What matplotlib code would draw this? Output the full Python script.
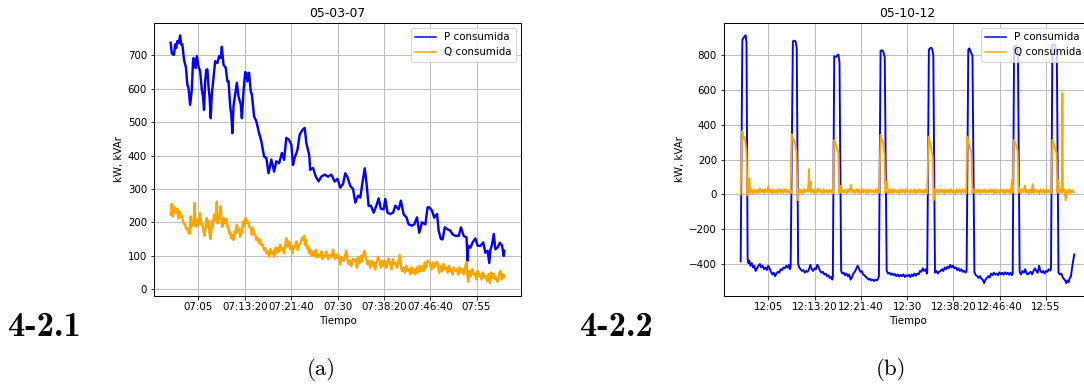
import numpy as np
import matplotlib
matplotlib.use("Agg")
import matplotlib.pyplot as plt
from matplotlib.ticker import MultipleLocator, FuncFormatter

# minutos desde el inicio de cada registro
inicio_a = 7 * 3600   # 07:00
inicio_b = 12 * 3600  # 12:00

t_p_a = [0.0, 0.2, 0.4, 0.6, 0.8, 1.0, 1.2, 1.45, 1.7, 1.9, 2.1, 2.4, 2.75, 3.0, 3.2, 3.5, 3.7, 3.8, 4.0, 4.1,
         4.3, 4.5, 4.7, 5.0, 5.3, 5.6, 5.8, 6.0, 6.2, 6.4, 6.6, 6.8, 7.0, 7.2, 7.4, 7.6, 8.0, 8.4, 8.7, 9.0,
         9.2, 9.5, 9.9, 10.2, 10.4, 10.7, 10.9, 11.1, 11.3, 11.5, 11.9, 12.2, 12.6, 12.8, 13.1, 13.4, 13.6, 13.8, 14.1, 14.4,
         14.6, 15.0, 15.4, 15.9, 16.3, 16.8, 17.2, 17.6, 18.1, 18.6, 19.0, 19.5, 20.0, 20.4, 20.8, 21.3, 21.7, 22.0, 22.3, 22.8,
         23.2, 23.7, 24.1, 24.4, 24.9, 25.1, 25.6, 26.1, 26.6, 27.1, 27.7, 28.3, 28.9, 29.5, 30.0, 30.5, 31.0, 31.4, 31.8, 32.3,
         32.8, 33.2, 33.7, 34.1, 34.5, 34.9, 35.2, 35.6, 36.0, 36.5, 37.0, 37.4, 37.8, 38.3, 38.6, 39.0, 39.5, 40.0, 40.4, 41.0,
         41.4, 41.9, 42.4, 42.8, 43.4, 43.8, 44.3, 44.7, 45.2, 45.8, 46.2, 46.5, 47.0, 47.4, 47.9, 48.2, 48.6, 48.9, 49.3, 49.8,
         50.3, 50.7, 51.2, 51.8, 52.2, 52.7, 53.2, 53.4, 53.5, 53.9, 54.3, 54.8, 55.2, 55.7, 56.2, 56.6, 57.0, 57.3, 57.5, 57.8,
         58.1, 58.4, 58.8, 59.2, 59.6, 59.9, 60.0]
p_a = [738, 707, 703, 702, 733, 722, 743, 737, 760, 732, 733, 687, 663, 612, 603, 552, 583, 597, 678, 692,
       688, 662, 698, 667, 653, 597, 578, 537, 623, 657, 658, 607, 573, 512, 583, 617, 683, 677, 698, 692,
       726, 672, 663, 622, 623, 547, 523, 467, 548, 572, 618, 577, 553, 512, 593, 650, 648, 622, 648, 592,
       583, 517, 503, 467, 443, 397, 393, 347, 388, 352, 383, 377, 408, 387, 453, 447, 433, 372, 393, 417,
       463, 477, 483, 437, 403, 357, 363, 337, 323, 337, 343, 337, 343, 322, 330, 304, 315, 347, 335, 309,
       300, 259, 280, 274, 320, 362, 320, 249, 250, 229, 250, 272, 240, 239, 270, 229, 225, 229, 250, 239,
       265, 224, 215, 194, 190, 194, 215, 169, 200, 194, 245, 245, 235, 214, 225, 174, 150, 149, 185, 179,
       175, 164, 160, 159, 185, 159, 155, 85, 130, 124, 140, 152, 130, 129, 140, 109, 115, 78, 118, 134,
       165, 119, 125, 139, 130, 99, 115]

t_q_a = [0.0, 0.2, 0.4, 0.6, 0.8, 1.0, 1.2, 1.4, 1.6, 1.8, 2.0, 2.3, 2.6, 2.8, 3.0, 3.2, 3.4, 3.6, 3.75, 3.9,
         4.1, 4.3, 4.45, 4.6, 4.8, 5.0, 5.3, 5.5, 5.7, 5.9, 6.1, 6.3, 6.5, 6.65, 6.8, 7.0, 7.2, 7.4, 7.55, 7.8,
         8.0, 8.15, 8.3, 8.45, 8.6, 8.8, 9.0, 9.15, 9.3, 9.55, 9.8, 10.0, 10.2, 10.35, 10.5, 10.7, 10.9, 11.1, 11.3, 11.5,
         11.7, 11.9, 12.1, 12.3, 12.5, 12.65, 12.8, 13.0, 13.2, 13.45, 13.7, 13.9, 14.1, 14.35, 14.6, 14.8, 15.0, 15.2, 15.4, 15.65,
         15.9, 16.1, 16.3, 16.55, 16.8, 17.0, 17.2, 17.45, 17.7, 17.9, 18.1, 18.35, 18.6, 18.8, 19.0, 19.25, 19.5, 19.7, 19.9, 20.15,
         20.4, 20.6, 20.8, 21.05, 21.3, 21.5, 21.7, 21.9, 22.1, 22.35, 22.6, 22.85, 23.1, 23.35, 23.6, 23.8, 24.0, 24.15, 24.3, 24.5,
         24.7, 24.9, 25.1, 25.35, 25.6, 25.85, 26.1, 26.35, 26.6, 26.85, 27.1, 27.3, 27.5, 27.75, 28.0, 28.3, 28.6, 28.9, 29.2, 29.5,
         29.8, 30.0, 30.25, 30.5, 30.8, 31.1, 31.35, 31.6, 31.8, 32.0, 32.25, 32.5, 32.75, 33.0, 33.25, 33.5, 33.75, 34.0, 34.2, 34.4,
         34.65, 34.9, 35.15, 35.4, 35.65, 35.9, 36.15, 36.4, 36.6, 36.8, 37.05, 37.3, 37.55, 37.8, 38.05, 38.3, 38.55, 38.8, 39.0, 39.2,
         39.45, 39.7, 39.95, 40.2, 40.45, 40.7, 40.95, 41.2, 41.4, 41.6, 41.85, 42.1, 42.35, 42.6, 42.85, 43.1, 43.3, 43.5, 43.75, 44.0,
         44.25, 44.5, 44.75, 45.0, 45.25, 45.5, 45.7, 45.9, 46.15, 46.4, 46.65, 46.9, 47.15, 47.4, 47.65, 47.9, 48.1, 48.3, 48.55, 48.8,
         49.05, 49.3, 49.55, 49.8, 50.05, 50.3, 50.5, 50.7, 50.95, 51.2, 51.45, 51.7, 51.95, 52.2, 52.45, 52.7, 52.95, 53.2, 53.35, 53.5,
         53.75, 54.0, 54.25, 54.5, 54.75, 55.0, 55.2, 55.4, 55.65, 55.9, 56.15, 56.4, 56.65, 56.9, 57.15, 57.4, 57.65, 57.9, 58.1, 58.3,
         58.55, 58.8, 59.05, 59.3, 59.55, 59.8, 60.0]
q_a = [223, 255, 217, 233, 245, 227, 240, 212, 232, 217, 220, 197, 193, 180, 183, 170, 165, 218, 187, 203,
       190, 258, 200, 187, 208, 192, 228, 195, 193, 172, 160, 190, 213, 187, 203, 165, 150, 203, 187, 223,
       207, 225, 262, 197, 213, 215, 248, 200, 187, 213, 197, 210, 187, 190, 167, 170, 152, 163, 147, 173,
       167, 193, 177, 180, 157, 180, 167, 203, 187, 213, 198, 203, 187, 185, 162, 183, 167, 163, 147, 153,
       137, 148, 132, 133, 117, 123, 107, 113, 97, 120, 107, 113, 97, 123, 107, 125, 112, 133, 117, 123,
       107, 133, 152, 127, 143, 120, 133, 107, 123, 127, 143, 117, 133, 137, 153, 147, 160, 132, 148, 122,
       128, 107, 118, 100, 113, 97, 118, 95, 103, 97, 113, 90, 103, 97, 113, 90, 103, 95, 118, 90,
       103, 92, 100, 74, 95, 84, 100, 115, 90, 74, 85, 69, 90, 84, 90, 64, 95, 79, 100, 84,
       105, 115, 90, 74, 85, 64, 85, 69, 80, 59, 80, 97, 85, 64, 85, 69, 85, 64, 80, 92,
       75, 59, 90, 74, 80, 64, 85, 102, 70, 54, 65, 49, 70, 54, 60, 44, 65, 49, 60, 44,
       65, 49, 70, 54, 70, 54, 80, 64, 85, 82, 75, 59, 80, 64, 77, 82, 65, 49, 70, 54,
       75, 59, 65, 49, 70, 54, 60, 44, 65, 54, 60, 44, 65, 49, 60, 44, 65, 80, 45, 22,
       55, 39, 60, 44, 45, 29, 55, 39, 45, 29, 50, 34, 40, 24, 45, 18, 50, 34, 45, 29,
       35, 22, 45, 55, 29, 45, 36]

t_p_b = [0.0, 0.3, 0.5, 0.7, 0.9, 1.05, 1.25, 1.4, 1.55, 1.75, 2.0, 2.2, 2.45, 2.7, 2.95, 3.2, 3.45, 3.7, 3.95, 4.2,
         4.45, 4.7, 4.95, 5.2, 5.45, 5.7, 5.95, 6.2, 6.45, 6.7, 6.95, 7.2, 7.45, 7.7, 7.95, 8.2, 8.45, 8.7, 8.85, 9.0,
         9.4, 9.6, 9.9, 10.1, 10.35, 10.55, 10.8, 11.05, 11.3, 11.55, 11.8, 12.05, 12.3, 12.55, 12.8, 13.05, 13.3, 13.55, 13.8, 14.05,
         14.3, 14.55, 14.8, 15.05, 15.3, 15.55, 15.8, 16.05, 16.3, 16.5, 16.6, 16.85, 17.1, 17.4, 17.6, 17.8, 18.1, 18.3, 18.55, 18.8,
         19.05, 19.3, 19.55, 19.8, 20.05, 20.3, 20.55, 20.8, 21.05, 21.3, 21.55, 21.8, 22.05, 22.3, 22.55, 22.8, 23.05, 23.3, 23.55, 23.8,
         24.05, 24.3, 24.55, 24.75, 24.9, 25.2, 25.45, 25.7, 25.95, 26.3, 26.55, 26.8, 27.05, 27.3, 27.55, 27.8, 28.05, 28.3, 28.55, 28.8,
         29.05, 29.3, 29.55, 29.8, 30.05, 30.3, 30.55, 30.8, 31.05, 31.3, 31.55, 31.8, 32.05, 32.3, 32.55, 32.8, 33.05, 33.3, 33.55, 33.6,
         33.9, 34.1, 34.3, 34.5, 34.7, 35.0, 35.25, 35.5, 35.75, 36.0, 36.25, 36.5, 36.75, 37.0, 37.25, 37.5, 37.75, 38.0, 38.25, 38.5,
         38.75, 39.0, 39.25, 39.5, 39.75, 40.0, 40.25, 40.5, 40.7, 41.0, 41.2, 41.5, 41.75, 42.1, 42.35, 42.6, 42.85, 43.1, 43.35, 43.6,
         43.85, 44.1, 44.35, 44.6, 44.85, 45.1, 45.35, 45.6, 45.85, 46.1, 46.35, 46.6, 46.85, 47.1, 47.35, 47.6, 47.85, 48.1, 48.35, 48.6,
         48.85, 49.0, 49.25, 49.5, 49.75, 49.95, 50.25, 50.5, 50.75, 51.0, 51.25, 51.5, 51.75, 52.0, 52.25, 52.5, 52.75, 53.0, 53.25, 53.5,
         53.75, 54.0, 54.25, 54.5, 54.75, 55.0, 55.25, 55.5, 55.75, 55.9, 56.15, 56.4, 56.7, 56.95, 57.25, 57.5, 57.75, 58.0, 58.2, 58.45,
         58.65, 58.85, 59.05, 59.3, 59.5, 59.7, 59.9, 60.1]
p_b = [-385, 890, 900, 910, 915, 870, -370, -395, -380, -410, -395, -420, -410, -440, -425, -410, -400, -420, -410, -430,
       -420, -435, -410, -425, -445, -460, -450, -470, -455, -445, -450, -430, -435, -420, -425, -410, -420, -405, -430, -420,
       880, 885, 880, 840, -400, -420, -430, -440, -435, -450, -440, -445, -430, -405, -430, -440, -425, -430, -405, -420,
       -440, -450, -445, -460, -455, -470, -465, -480, -475, -490, -470, 795, 790, 800, 805, 760, -440, -455, -450, -465,
       -455, -470, -460, -490, -475, -455, -445, -430, -410, -425, -445, -440, -460, -465, -475, -480, -490, -485, -495, -490,
       -498, -490, -495, -485, -470, 825, 830, 820, 790, -440, -455, -450, -462, -455, -465, -458, -470, -460, -472, -462,
       -470, -460, -475, -465, -470, -462, -475, -460, -470, -455, -468, -455, -460, -440, -445, -425, -440, -430, -455, -450,
       833, 840, 845, 835, 800, -450, -440, -455, -445, -440, -430, -440, -420, -430, -415, -425, -405, -420, -410, -425,
       -420, -435, -425, -440, -430, -445, -440, -450, -440, 833, 840, 815, 800, -445, -465, -470, -480, -470, -485, -490,
       -510, -490, -480, -470, -478, -455, -465, -450, -462, -455, -465, -448, -460, -450, -462, -448, -458, -450, -462, -450,
       -465, -455, 850, 855, 840, 790, -445, -460, -440, -450, -430, -455, -460, -450, -445, -460, -440, -425, -440, -450,
       -410, -440, -450, -440, -455, -440, -445, -430, -438, -425, 860, 865, 855, 800, -450, -460, -455, -475, -485, -495,
       -510, -495, -505, -480, -470, -420, -380, -345]

t_q_b = [0.0, 0.1, 0.3, 0.5, 0.7, 0.9, 1.05, 1.2, 1.4, 1.55, 1.7, 1.95, 2.2, 2.45, 2.7, 2.95, 3.2, 3.45, 3.7, 3.95,
         4.2, 4.45, 4.7, 4.95, 5.2, 5.45, 5.7, 5.95, 6.2, 6.45, 6.7, 6.95, 7.2, 7.45, 7.7, 7.95, 8.2, 8.45, 8.7, 8.95,
         9.0, 9.2, 9.45, 9.7, 9.9, 10.05, 10.2, 10.3, 10.45, 10.7, 10.95, 11.2, 11.45, 11.7, 11.95, 12.15, 12.3, 12.4, 12.55, 12.7,
         12.95, 13.2, 13.45, 13.7, 13.95, 14.2, 14.45, 14.7, 14.95, 15.2, 15.45, 15.7, 15.95, 16.2, 16.45, 16.6, 16.85, 17.1, 17.4, 17.6,
         17.75, 17.95, 18.1, 18.35, 18.6, 18.85, 19.1, 19.35, 19.6, 19.85, 20.1, 20.35, 20.6, 20.85, 21.1, 21.35, 21.6, 21.85, 22.1, 22.35,
         22.6, 22.85, 23.1, 23.35, 23.6, 23.85, 24.1, 24.35, 24.6, 24.85, 24.95, 25.2, 25.45, 25.7, 25.9, 26.05, 26.2, 26.35, 26.5, 26.75,
         27.0, 27.25, 27.5, 27.75, 28.0, 28.25, 28.5, 28.75, 29.0, 29.25, 29.5, 29.75, 30.0, 30.25, 30.5, 30.75, 31.0, 31.25, 31.5, 31.75,
         32.0, 32.25, 32.5, 32.75, 33.0, 33.25, 33.5, 33.6, 33.85, 34.1, 34.35, 34.6, 34.75, 34.9, 35.15, 35.4, 35.65, 35.9, 36.15, 36.4,
         36.65, 36.9, 37.15, 37.4, 37.65, 37.9, 38.15, 38.4, 38.65, 38.9, 39.15, 39.4, 39.65, 39.9, 40.15, 40.4, 40.65, 40.8, 41.05, 41.3,
         41.55, 41.75, 41.9, 42.15, 42.4, 42.65, 42.9, 43.15, 43.4, 43.65, 43.9, 44.15, 44.4, 44.65, 44.9, 45.15, 45.4, 45.65, 45.9, 46.15,
         46.4, 46.65, 46.9, 47.15, 47.4, 47.65, 47.9, 48.15, 48.4, 48.65, 48.85, 49.0, 49.2, 49.45, 49.7, 49.9, 50.05, 50.2, 50.45, 50.7,
         50.95, 51.2, 51.4, 51.65, 51.9, 52.15, 52.4, 52.6, 52.8, 53.05, 53.3, 53.55, 53.8, 54.05, 54.3, 54.55, 54.8, 55.05, 55.3, 55.55,
         55.8, 55.9, 56.15, 56.4, 56.65, 56.9, 57.05, 57.2, 57.35, 57.6, 57.85, 57.95, 58.05, 58.3, 58.55, 58.75, 59.0, 59.25, 59.5, 59.75,
         60.0]
q_b = [0, 200, 365, 320, 330, 285, 240, -4, 30, 92, 10, 30, 5, 28, 8, 25, 10, 35, 12, 28,
       8, 30, 12, 45, 10, 28, 6, 30, 10, 25, 8, 32, 10, 28, 8, 30, 12, 28, 10, 25,
       5, 346, 320, 304, 270, 246, 20, -33, 30, 10, 28, 5, 30, 12, 28, 15, 146, 20, 73, 10,
       30, 8, 28, 10, 35, 12, 28, 5, 30, 10, 25, 8, 28, 12, 30, 5, 313, 290, 256, 240,
       10, 50, 8, 30, 10, 28, 6, 30, 12, 55, 10, 28, 8, 30, 10, 28, 5, 30, 12, 25,
       8, 30, 10, 28, 12, 25, 8, 30, 10, 35, 10, 342, 310, 285, 227, 10, 30, 73, 5, 28,
       10, 30, 8, 28, 12, 25, 5, 30, 10, 28, 8, 30, 12, 25, 8, 28, 10, 30, 5, 28,
       12, 30, 10, 25, 8, 30, 12, 5, 333, 300, 256, 220, -33, 30, 10, 28, 8, 30, 12, 25,
       5, 30, 10, 28, 8, 30, 12, 25, 5, 30, 10, 28, 8, 30, 12, 28, 5, 333, 300, 270,
       246, 10, 30, 8, 28, 10, 30, 5, 28, 12, 30, 8, 25, 10, 30, 12, 28, 5, 30, 10,
       25, 8, 30, 12, 28, 5, 30, 10, 28, 8, 83, 10, 313, 300, 275, 250, 10, 40, 8, 30,
       12, 50, 10, 28, 5, 30, 10, 60, 8, 30, 12, 25, 5, 30, 10, 28, 8, 30, 12, 25,
       5, 8, 313, 290, 256, 240, 10, 83, 12, 30, 10, 583, 15, 30, -33, 25, 10, 30, 8, 25,
       12]


def hora(x, pos=None):
    s = int(round(x))
    h, resto = divmod(s, 3600)
    m, s = divmod(resto, 60)
    h = h % 24
    if s != 0:
        return f"{h:02d}:{m:02d}:{s:02d}"
    return f"{h:02d}:{m:02d}"


def grafico(ax, inicio, t_p, p, t_q, q, titulo, grosor):
    ax.plot(inicio + np.array(t_p) * 60, p, color='blue', lw=grosor, label='P consumida')
    ax.plot(inicio + np.array(t_q) * 60, q, color='orange', lw=grosor, label='Q consumida')
    ax.xaxis.set_major_locator(MultipleLocator(500))
    ax.xaxis.set_major_formatter(FuncFormatter(hora))
    ax.set_title(titulo)
    ax.set_xlabel('Tiempo')
    ax.set_ylabel('kW, kVAr')
    ax.grid(True)
    leg = ax.legend(loc='upper right')
    for l in leg.get_lines():
        l.set_linewidth(1.5)


W, H = 1084, 387
dpi = 72
plt.rcParams['axes.linewidth'] = 1.0
plt.rcParams['font.size'] = 10.3
fig = plt.figure(figsize=(W / dpi, H / dpi), dpi=dpi)

ax1 = fig.add_axes([154 / W, 1 - 295.5 / H, 367 / W, 272.5 / H])
grafico(ax1, inicio_a, t_p_a, p_a, t_q_a, q_a, '05-03-07', 2.4)

# el panel derecho queda cortado por el borde de la imagen
ax2 = fig.add_axes([724 / W, 1 - 295.5 / H, 367 / W, 272.5 / H])
grafico(ax2, inicio_b, t_p_b, p_b, t_q_b, q_b, '05-10-12', 1.9)

fig.text(8 / W, 1 - 336 / H, '4-2.1', fontfamily='cmb10', fontsize=34.5, va='baseline')
fig.text(580 / W, 1 - 336 / H, '4-2.2', fontfamily='cmb10', fontsize=34.5, va='baseline')
fig.text(321 / W, 1 - 375 / H, '(a)', fontfamily='cmr10', fontsize=23, ha='center', va='baseline')
fig.text(891 / W, 1 - 375 / H, '(b)', fontfamily='cmr10', fontsize=23, ha='center', va='baseline')

fig.savefig('out.png', dpi=dpi)
